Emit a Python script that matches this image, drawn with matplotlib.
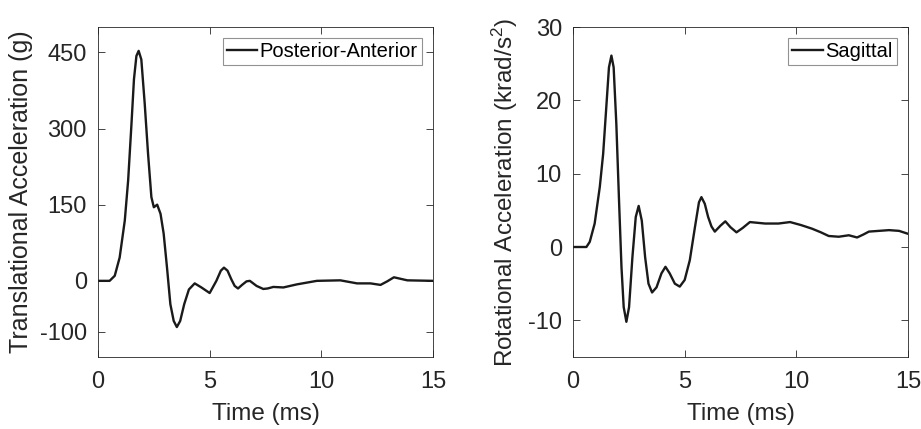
import numpy as np
import matplotlib.pyplot as plt

plt.rcParams['font.family'] = ['Liberation Sans', 'DejaVu Sans']
plt.rcParams['mathtext.fontset'] = 'custom'
plt.rcParams['mathtext.rm'] = 'Liberation Sans'
plt.rcParams['mathtext.it'] = 'Liberation Sans'
plt.rcParams['axes.unicode_minus'] = False

# Translational acceleration (g), posterior-anterior
t_trans = [0, 0.52, 0.75, 0.97, 1.2, 1.35, 1.5, 1.61, 1.72, 1.82, 1.94, 2.09, 2.24,
           2.39, 2.5, 2.65, 2.8, 2.94, 3.09, 3.24, 3.39, 3.53, 3.68, 3.86, 4.07,
           4.33, 4.63, 5.0, 5.3, 5.5, 5.64, 5.8, 5.97, 6.12, 6.27, 6.45, 6.65,
           6.8, 6.95, 7.1, 7.4, 7.6, 7.85, 8.3, 8.9, 9.8, 10.85, 11.6, 12.2,
           12.65, 12.95, 13.25, 13.85, 15]
a_trans = [0, 0, 10, 46, 119, 198, 310, 397, 443, 453, 436, 350, 251,
           165, 145, 150, 132, 93, 26, -46, -79, -91, -79, -46, -17,
           -5, -13, -24, 0, 20, 26, 20, 3, -10, -15, -8, -1,
           0, -5, -10, -16, -15, -12, -13, -7, 0, 1, -5, -5,
           -8, -1, 7, 1, 0]

# Rotational acceleration (krad/s^2), sagittal
t_rot = [0, 0.6, 0.75, 0.97, 1.2, 1.35, 1.5, 1.61, 1.72, 1.82, 1.94, 2.06, 2.17,
         2.27, 2.39, 2.51, 2.66, 2.81, 2.94, 3.08, 3.23, 3.38, 3.54, 3.74, 3.96,
         4.14, 4.33, 4.56, 4.78, 5.0, 5.23, 5.46, 5.64, 5.75, 5.9, 6.05, 6.2,
         6.35, 6.6, 6.82, 7.05, 7.32, 7.6, 7.92, 8.6, 9.2, 9.72, 10.2, 10.7,
         11.1, 11.45, 11.9, 12.35, 12.72, 13.0, 13.25, 13.7, 14.15, 14.6, 15]
a_rot = [0, 0, 0.7, 3.2, 8.2, 12.7, 19.5, 24.5, 26.1, 24.5, 16.8, 6.4, -2.7,
         -8.2, -10.2, -8.2, -1.4, 4.1, 5.6, 3.6, -1.4, -5, -6.2, -5.5, -3.6,
         -2.7, -3.6, -5, -5.4, -4.5, -1.8, 2.7, 6.1, 6.8, 5.9, 4.1, 2.8,
         2.1, 2.9, 3.5, 2.7, 2.0, 2.6, 3.4, 3.2, 3.2, 3.4, 3.0, 2.5,
         2.0, 1.5, 1.4, 1.6, 1.3, 1.7, 2.1, 2.2, 2.3, 2.2, 1.8]

fig = plt.figure(figsize=(9.21, 4.29), dpi=100)
W, H = 921, 429
ax1 = fig.add_axes([98 / W, 72 / H, 335 / W, 330 / H])
ax2 = fig.add_axes([573 / W, 72 / H, 335 / W, 330 / H])


def style(ax):
    ax.set_xlim(0, 15)
    ax.set_xticks([0, 5, 10, 15])
    ax.tick_params(direction='in', top=True, right=True, labelsize=17,
                   length=5, width=0.6, colors='#262626', labelcolor='#262626')
    ax.tick_params(axis='x', pad=10)
    ax.tick_params(axis='y', pad=8)
    for s in ax.spines.values():
        s.set_linewidth(0.6)
        s.set_color('#262626')
    ax.set_xlabel('Time (ms)', fontsize=17.5, color='#262626', labelpad=7)


ax1.plot(t_trans, a_trans, color='#1a1a1a', lw=1.7, label='Posterior-Anterior')
style(ax1)
ax1.set_ylim(-150, 500)
ax1.set_yticks([-100, 0, 150, 300, 450])
ax1.set_ylabel('Translational Acceleration (g)', fontsize=18, color='#262626',
               labelpad=5)

ax2.plot(t_rot, a_rot, color='#1a1a1a', lw=1.7, label='Sagittal')
style(ax2)
ax2.set_ylim(-15, 30)
ax2.set_yticks([-10, 0, 10, 20, 30])
ax2.set_ylabel('Rotational Acceleration (krad/s$^2$)', fontsize=17.5, color='#262626',
               labelpad=6)

for ax in (ax1, ax2):
    leg = ax.legend(loc='upper right', fontsize=14.5, fancybox=False, handlelength=1.5,
                    handletextpad=0.15, borderpad=0.2, borderaxespad=0.55)
    leg.get_frame().set_edgecolor('#777777')
    leg.get_frame().set_linewidth(0.8)

fig.savefig('out.png', dpi=100)
